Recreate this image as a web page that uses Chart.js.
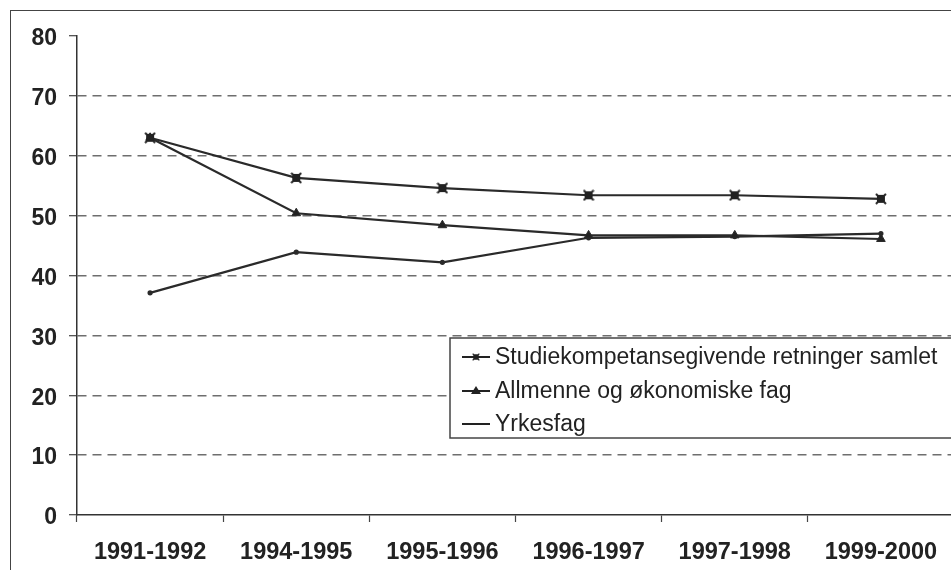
<!DOCTYPE html>
<html>
<head>
<meta charset="utf-8">
<script src="https://cdn.jsdelivr.net/npm/chart.js@4/dist/chart.umd.min.js"></script>
<style>
  html, body { margin: 0; padding: 0; background: #fff; overflow: hidden; }
  .frame {
    position: absolute; left: 10px; top: 10px;
    width: 980px; height: 600px;
    border: 1.5px solid #444;
  }
  .chart { position: absolute; left: 0; top: 0; }
</style>
</head>
<body>
<div class="frame"></div>
<canvas class="chart js-chart" width="962" height="570"></canvas>
<script>
//#region ***  Data                                     ***********
const years = ["1991-1992", "1994-1995", "1995-1996", "1996-1997", "1997-1998", "1999-2000"];
const studieValues = [63.0, 56.3, 54.6, 53.4, 53.4, 52.8];
const allmenneValues = [63.0, 50.4, 48.4, 46.7, 46.7, 46.1];
const yrkesValues = [37.1, 43.9, 42.2, 46.3, 46.5, 47.0];
const seriesNames = [
  "Studiekompetansegivende retninger samlet",
  "Allmenne og økonomiske fag",
  "Yrkesfag",
];
const yTicks = [0, 10, 20, 30, 40, 50, 60, 70, 80];
//#endregion

//#region ***  Markers                                  ***********
// square with a cross through it, as the old spreadsheet marker
const makeCrossSquare = function () {
  const c = document.createElement("canvas");
  c.width = 12;
  c.height = 12;
  const ctx = c.getContext("2d");
  ctx.fillStyle = "#222";
  ctx.fillRect(2, 2, 8, 8);
  ctx.strokeStyle = "#222";
  ctx.lineWidth = 2;
  ctx.beginPath();
  ctx.moveTo(1, 1);
  ctx.lineTo(11, 11);
  ctx.moveTo(11, 1);
  ctx.lineTo(1, 11);
  ctx.stroke();
  return c;
};
const crossSquare = makeCrossSquare();
//#endregion

//#region ***  Legend plugin                            ***********
const boxLegend = {
  id: "boxLegend",
  afterDraw(chart) {
    const ctx = chart.ctx;
    const left = 450, top = 338, bottom = 438;
    const rowY = [357, 391, 424];
    ctx.save();
    ctx.fillStyle = "#fff";
    ctx.fillRect(left, top, chart.width - left + 20, bottom - top);
    ctx.strokeStyle = "#444";
    ctx.lineWidth = 1.5;
    ctx.strokeRect(left, top, chart.width - left + 20, bottom - top);

    chart.data.datasets.forEach(function (ds, i) {
      const y = rowY[i];
      ctx.strokeStyle = "#222";
      ctx.lineWidth = 2;
      ctx.beginPath();
      ctx.moveTo(462, y);
      ctx.lineTo(490, y);
      ctx.stroke();
      if (ds.pointStyle === "triangle") {
        ctx.fillStyle = "#222";
        ctx.beginPath();
        ctx.moveTo(476, y - 5);
        ctx.lineTo(481, y + 3);
        ctx.lineTo(471, y + 3);
        ctx.closePath();
        ctx.fill();
      } else if (ds.pointStyle instanceof HTMLCanvasElement) {
        ctx.drawImage(ds.pointStyle, 476 - 4, y - 4, 8, 8);
      }
      ctx.fillStyle = "#222";
      ctx.font = "23px 'Liberation Sans', Arial, sans-serif";
      ctx.textBaseline = "middle";
      ctx.fillText(ds.label, 495, y + 1);
    });
    ctx.restore();
  },
};
//#endregion

//#region ***  Chart                                    ***********
const showChart = function () {
  const htmlChart = document.querySelector(".js-chart");

  const data = {
    labels: years,
    datasets: [
      {
        label: seriesNames[0],
        data: studieValues,
        borderColor: "#2a2a2a",
        borderWidth: 2.2,
        pointStyle: crossSquare,
        pointRadius: 5,
      },
      {
        label: seriesNames[1],
        data: allmenneValues,
        borderColor: "#2a2a2a",
        backgroundColor: "#222",
        borderWidth: 2.2,
        pointStyle: "triangle",
        pointRadius: 5,
        pointBorderWidth: 1,
      },
      {
        label: seriesNames[2],
        data: yrkesValues,
        borderColor: "#2a2a2a",
        backgroundColor: "#222",
        borderWidth: 2.2,
        pointRadius: 1.5,
      },
    ],
  };

  const config = {
    type: "line",
    data: data,
    plugins: [boxLegend],
    options: {
      responsive: false,
      animation: false,
      layout: { padding: { left: 0, right: 8, top: 36, bottom: 0 } },
      plugins: { legend: { display: false }, tooltip: { enabled: false } },
      elements: { line: { tension: 0 } },
      scales: {
        x: {
          offset: true,
          grid: {
            offset: true,
            drawOnChartArea: false,
            tickLength: 7,
            tickColor: "#444",
            tickWidth: 1.2,
          },
          border: { color: "#333", width: 1.5 },
          ticks: {
            color: "#222",
            padding: 16,
            maxRotation: 0,
            font: { family: "'Liberation Sans', Arial, sans-serif", size: 23.5, weight: "bold" },
          },
          afterFit(scale) {
            scale.height = 55;
          },
        },
        y: {
          min: 0,
          max: 80,
          afterBuildTicks(scale) {
            scale.ticks = yTicks.map((v) => ({ value: v }));
          },
          grid: {
            color: (c) => (c.tick && (c.tick.value === 80 || c.tick.value === 0) ? "rgba(0,0,0,0)" : "#6e6e6e"),
            lineWidth: 1.4,
            tickLength: 8,
            tickColor: "#444",
            tickBorderDash: [],
            tickWidth: 1.2,
          },
          border: { color: "#333", width: 1.5, dash: [9, 6] },
          ticks: {
            color: "#222",
            padding: 12,
            labelOffset: 3,
            font: { family: "'Liberation Sans', Arial, sans-serif", size: 23, weight: "bold" },
          },
          afterFit(scale) {
            scale.width = 77;
          },
        },
      },
    },
  };
  new Chart(htmlChart, config);
};

document.addEventListener("DOMContentLoaded", showChart);
//#endregion
</script>
</body>
</html>
